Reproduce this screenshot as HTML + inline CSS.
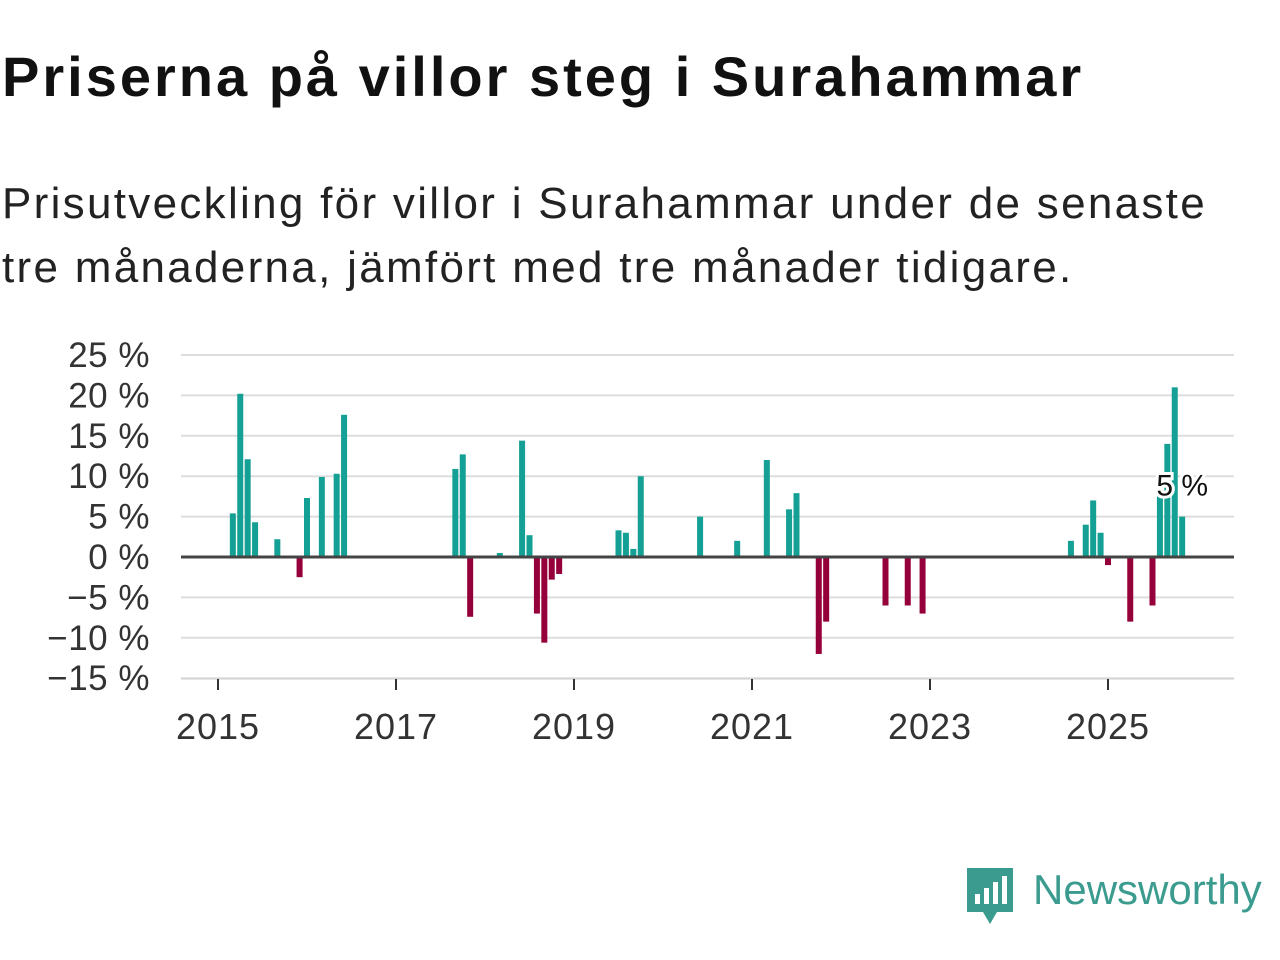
<!DOCTYPE html>
<html><head><meta charset="utf-8"><style>
body{margin:0;width:1280px;height:960px;background:#fff;font-family:"Liberation Sans","DejaVu Sans",sans-serif;color:#111;overflow:hidden;position:relative}
h1{position:absolute;left:2px;top:44px;margin:0;font-size:56px;font-weight:bold;letter-spacing:3px;white-space:nowrap}
.sub{position:absolute;left:2px;top:172px;margin:0;font-size:44px;line-height:64px;color:#222;width:1240px;letter-spacing:2.3px}
svg{position:absolute;left:0;top:0}
</style></head><body>
<h1>Priserna på villor steg i Surahammar</h1>
<p class="sub">Prisutveckling för villor i Surahammar under de senaste<br>tre månaderna, jämfört med tre månader tidigare.</p>
<svg id="chart" width="1280" height="960"></svg>
<div style="position:absolute;left:965px;top:866px;display:flex;align-items:center">
<svg width="50" height="60" style="position:static"><path d="M2 2h46v44H32l-7 12-7-12H2z" fill="#3a9b8e"/><rect x="10" y="28" width="5" height="10" fill="#fff"/><rect x="19" y="22" width="5" height="16" fill="#fff"/><rect x="28" y="16" width="5" height="22" fill="#fff"/><rect x="37" y="10" width="5" height="28" fill="#fff"/></svg>
<span style="font-size:42px;color:#3a9b8e;margin-left:18px;margin-top:-12px">Newsworthy</span></div>
<script>
const months=[2,3,4,5,8,11,12,14,16,17,32,33,34,38,41,42,43,44,45,46,54,55,56,57,65,70,74,77,78,81,82,90,93,95,115,117,118,119,120,123,126,127,128,129,130];
const values=[5.4,20.2,12.1,4.3,2.2,-2.5,7.3,9.9,10.3,17.6,10.9,12.7,-7.4,0.5,14.4,2.7,-7,-10.6,-2.8,-2.1,3.3,3.0,1.0,10.0,5.0,2.0,12.0,5.9,7.9,-12,-8,-6,-6,-7,2,4,7,3,-1,-8,-6,8,14,21,5];
const yTicks=[25,20,15,10,5,0,-5,-10,-15];
const xTicks=[2015,2017,2019,2021,2023,2025];
const svg=document.getElementById('chart');const NS='http://www.w3.org/2000/svg';
const y=v=>557-v*8.08;
const x=m=>218+m*89/12;
function mk(t,a,p){const e=document.createElementNS(NS,t);for(const k in a)e.setAttribute(k,a[k]);(p||svg).appendChild(e);return e;}
yTicks.forEach(t=>{
 const g=mk('line',{x1:181,x2:1234,y1:y(t),y2:y(t),stroke:'#ddd','stroke-width':2});
 
 
 const l=mk('text',{x:150,y:y(t)+12,'text-anchor':'end','font-size':35,fill:'#333','letter-spacing':0.5});
 
 
 l.textContent=(t<0?'\u2212'+(-t):t)+' %';
});
mk('line',{x1:181,x2:1234,y1:679,y2:679,stroke:'#ccc','stroke-width':1});
xTicks.forEach(yr=>{
 const xx=x((yr-2015)*12);
 mk('line',{x1:xx,x2:xx,y1:679,y2:690,stroke:'#333','stroke-width':2});
 const l=mk('text',{x:xx,y:739,'text-anchor':'middle','font-size':36,fill:'#333','letter-spacing':1});
 
 
 l.textContent=yr;
});
months.forEach((m,i)=>{
 const v=values[i];const b=mk('rect',{x:x(m)-3,width:6,y:Math.min(y(v),557),height:Math.abs(y(v)-557),fill:v>=0?'#14a094':'#95003a'});
 
 
});
mk('line',{x1:181,x2:1234,y1:557,y2:557,stroke:'#444','stroke-width':3});
const lv=values[values.length-1];
const lab=mk('text',{x:x(months[months.length-1]),y:y(lv)-21,'text-anchor':'middle','font-size':30,fill:'#111',stroke:'#fff','stroke-width':6,'paint-order':'stroke'});


lab.textContent=Math.round(lv)+' %';
</script>
</body></html>
